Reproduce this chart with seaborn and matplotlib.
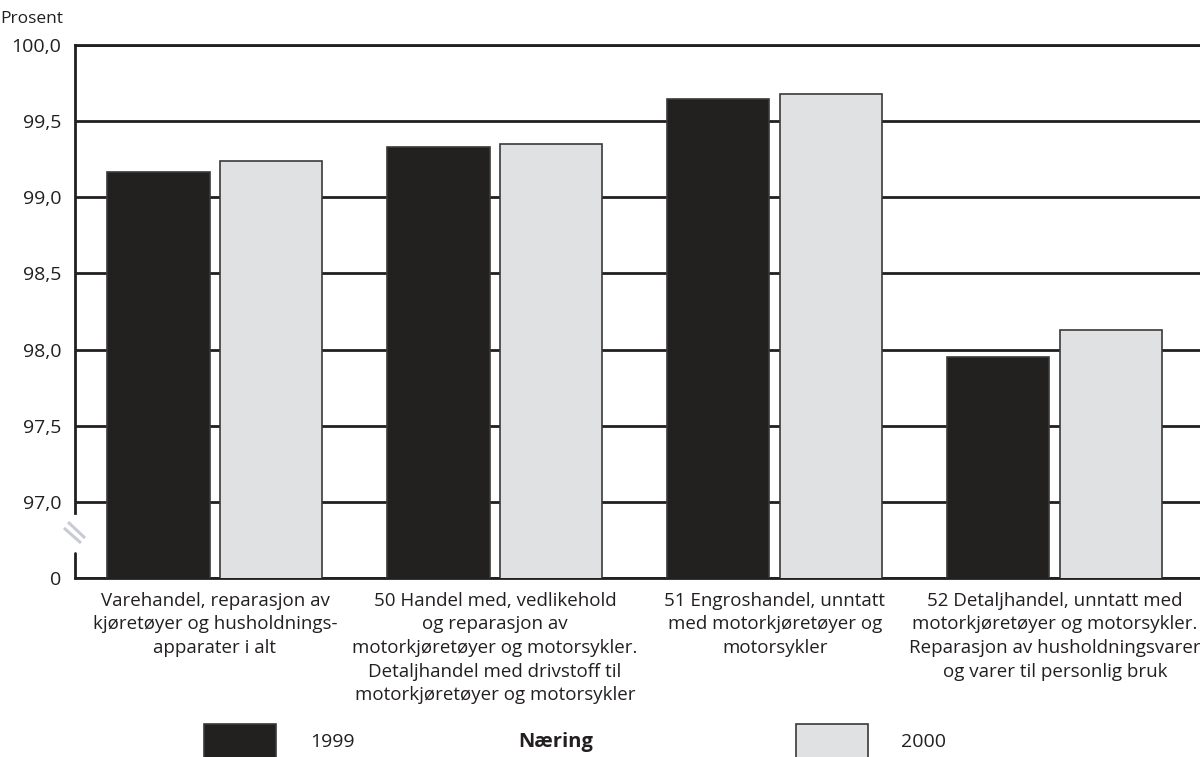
import matplotlib
matplotlib.use("Agg")
import matplotlib.pyplot as plt
import seaborn as sns
import pandas as pd
import numpy as np

# ---- data ----
categories = [
    "Varehandel, reparasjon av\nkjøretøyer og husholdnings-\napparater i alt",
    "50 Handel med, vedlikehold\nog reparasjon av\nmotorkjøretøyer og motorsykler.\nDetaljhandel med drivstoff til\nmotorkjøretøyer og motorsykler",
    "51 Engroshandel, unntatt\nmed motorkjøretøyer og\nmotorsykler",
    "52 Detaljhandel, unntatt med\nmotorkjøretøyer og motorsykler.\nReparasjon av husholdningsvarer\nog varer til personlig bruk",
]
values_1999 = [99.165, 99.33, 99.645, 97.95]
values_2000 = [99.24, 99.35, 99.675, 98.13]
years = ["1999", "2000"]
ytick_values = [96.5, 97.0, 97.5, 98.0, 98.5, 99.0, 99.5, 100.0]
ytick_labels = ["0", "97,0", "97,5", "98,0", "98,5", "99,0", "99,5", "100,0"]

df = pd.DataFrame({
    "Næring": categories * 2,
    "Prosent": values_1999 + values_2000,
    "År": [years[0]] * 4 + [years[1]] * 4,
})

sns.set_theme(style="white")
plt.rcParams["font.family"] = ["Open Sans", "DejaVu Sans"]

W, H = 1200, 757
fig = plt.figure(figsize=(W / 100, H / 100), dpi=100)
ax = fig.add_axes([75 / W, (H - 578) / H, 1125 / W, 533 / H])

dark = "#231f20"
light = "#e0e1e3"
sns.barplot(data=df, x="Næring", y="Prosent", hue="År", palette=[dark, light],
            width=0.807, gap=0.097, errorbar=None, edgecolor="#3a3a3a",
            linewidth=1.2, ax=ax, zorder=3)

ax.set_ylim(96.5, 100.0)
ax.set_xlim(-0.5, 3.518)
ax.set_yticks(ytick_values)
ax.set_yticklabels(ytick_labels)
ax.set_xlabel("")
ax.set_ylabel("")

ax.set_axisbelow(True)
ax.yaxis.grid(True, color=dark, linewidth=2.0)
ax.xaxis.grid(False)

for s in ["top", "bottom", "left"]:
    ax.spines[s].set_visible(True)
    ax.spines[s].set_color(dark)
    ax.spines[s].set_linewidth(2.0)
ax.spines["right"].set_visible(False)
ax.spines["left"].set_bounds(96.927, 100.0)
ax.axvline(-0.5, ymin=0, ymax=0.047, color=dark, linewidth=2.0, clip_on=False, zorder=5)

# axis break marks
for (x0, y0, x1, y1) in [(-0.0062, 0.105, 0.0089, 0.075), (-0.0098, 0.0938, 0.0053, 0.0657)]:
    ax.plot([x0, x1], [y0, y1], transform=ax.transAxes, color="#c8cbd3",
            linewidth=2.2, clip_on=False, zorder=6, solid_capstyle="butt")

ax.tick_params(axis="y", length=0, pad=10, labelsize=14, labelcolor="#231f20")
ax.tick_params(axis="x", direction="in", length=9, width=1.5, color=dark,
               pad=10, labelsize=13.5, labelcolor="#231f20")
for lab in ax.get_xticklabels():
    lab.set_linespacing(1.4)
    lab.set_horizontalalignment("center")

# legend
handles, labels = ax.get_legend_handles_labels()
if ax.get_legend() is not None:
    ax.get_legend().remove()
fs = 14
fspx = fs * 100 / 72
fig.legend(handles, labels, loc="upper left", bbox_to_anchor=(204 / W, 1 - 724 / H),
           ncol=2, frameon=False, borderpad=0, borderaxespad=0,
           handlelength=72 / fspx, handleheight=45 / fspx,
           handletextpad=34 / fspx, columnspacing=(797 - 356) / fspx, fontsize=fs,
           labelcolor="#231f20")

fig.text(556 / W, 1 - 742 / H, "Næring", ha="center", va="center",
         fontsize=14.5, fontweight="bold", color="#231f20")
fig.text(0 / W, 1 - 19 / H, "Prosent", ha="left", va="center",
         fontsize=12.5, color="#231f20")

fig.savefig("out.png", dpi=100)
